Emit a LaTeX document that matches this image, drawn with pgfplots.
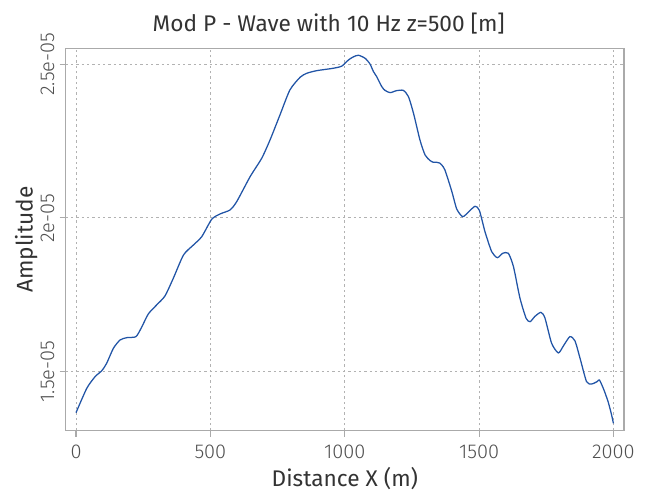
\documentclass[border=0pt]{standalone}
\usepackage{fontspec}
\setmainfont{Fira Sans}
\newfontfamily\lightfont{Fira Sans Light}
\usepackage{pgfplots}
\usepackage{pgfplotstable}
\pgfplotsset{compat=1.18}
\definecolor{curveblue}{RGB}{33,84,166}
\definecolor{framegray}{RGB}{170,170,170}
\definecolor{gridgray}{RGB}{178,178,178}
\definecolor{textgray}{RGB}{51,51,51}
\definecolor{tickgray}{RGB}{80,80,80}

\pgfplotstableread{
x y
0 1.3667e-5
40 1.4459e-5
71 1.4838e-5
96 1.5034e-5
114 1.5272e-5
139 1.5760e-5
164 1.6031e-5
189 1.6107e-5
223 1.6140e-5
244 1.6443e-5
269 1.6877e-5
300 1.7170e-5
331 1.7463e-5
362 1.8037e-5
400 1.8796e-5
437 1.9122e-5
468 1.9393e-5
505 1.9957e-5
536 2.0130e-5
573 2.0260e-5
598 2.0531e-5
648 2.1345e-5
691 2.1941e-5
722 2.2537e-5
759 2.3351e-5
796 2.4164e-5
834 2.4577e-5
859 2.4707e-5
896 2.4792e-5
958 2.4870e-5
989 2.4940e-5
1014 2.5140e-5
1032 2.5240e-5
1051 2.5293e-5
1076 2.5193e-5
1094 2.5009e-5
1107 2.4760e-5
1119 2.4597e-5
1138 2.4271e-5
1150 2.4150e-5
1169 2.4077e-5
1193 2.4141e-5
1218 2.4150e-5
1237 2.3950e-5
1256 2.3405e-5
1280 2.2537e-5
1299 2.2050e-5
1318 2.1865e-5
1330 2.1812e-5
1342 2.1811e-5
1355 2.1779e-5
1361 2.1724e-5
1373 2.1561e-5
1398 2.0880e-5
1417 2.0290e-5
1439 2.0043e-5
1460 2.0190e-5
1485 2.0380e-5
1501 2.0250e-5
1522 1.9554e-5
1547 1.8904e-5
1568 1.8709e-5
1588 1.8851e-5
1609 1.8851e-5
1628 1.8416e-5
1652 1.7400e-5
1675 1.6737e-5
1690 1.6627e-5
1708 1.6800e-5
1730 1.6930e-5
1745 1.6750e-5
1770 1.5924e-5
1795 1.5610e-5
1814 1.5840e-5
1838 1.6140e-5
1857 1.6000e-5
1876 1.5430e-5
1900 1.4675e-5
1919 1.4600e-5
1940 1.4680e-5
1948 1.4730e-5
1965 1.4400e-5
1981 1.4000e-5
1993 1.3600e-5
2000 1.3320e-5
}\wavedata

\begin{document}
\begin{tikzpicture}
\begin{axis}[
  scale only axis,
  width=418.7pt, height=286.8pt,
  xmin=-38.3, xmax=2039.4,
  ymin=1.3081e-5, ymax=2.552e-5,
  scaled y ticks=false,
  axis line style={framegray, line width=0.8pt},
  xtick={0,500,1000,1500,2000},
  xticklabels={0,500,1000,1500,2000},
  ytick={1.5e-5,2e-5,2.5e-5},
  yticklabels={1.5e-05,2e-05,2.5e-05},
  tick align=outside,
  major tick length=4.5pt,
  tick style={framegray, line width=0.8pt},
  xtick pos=bottom, ytick pos=left,
  grid=major,
  major grid style={gridgray, line width=0.75pt, dash pattern=on 1.8pt off 2.2pt},
  xticklabel shift=5.8pt,
  yticklabel shift=3.8pt,
  xticklabel style={font=\lightfont\fontsize{15}{18}\selectfont, text=tickgray, inner sep=0pt, anchor=north},
  yticklabel style={font=\lightfont\fontsize{15}{18}\selectfont, text=tickgray, inner sep=0pt, rotate=90, anchor=south},
  title={Mod P - Wave with 10 Hz z=500 [m]},
  title style={font=\fontsize{17}{20}\selectfont, text=textgray, inner sep=0pt, at={(axis description cs:0.4711,1.0434)}, anchor=base, yshift=-6pt},
  xlabel={Distance X (m)},
  xlabel style={font=\fontsize{17}{20}\selectfont, text=textgray, inner sep=0pt, at={(axis description cs:0.5,-0.1471)}, anchor=base},
  ylabel={Amplitude},
  ylabel style={font=\fontsize{17}{20}\selectfont, text=textgray, inner sep=0pt, at={(axis description cs:-0.0592,0.5)}, anchor=base},
]
\addplot[curveblue, line width=0.95pt, smooth, tension=0.4] table[x=x, y=y] {\wavedata};
\end{axis}
\pgfresetboundingbox
\path ([shift={(-49.3pt,-46.7pt)}]current axis.south west) rectangle ([shift={(18pt,36.2pt)}]current axis.north east);
\end{tikzpicture}
\end{document}
